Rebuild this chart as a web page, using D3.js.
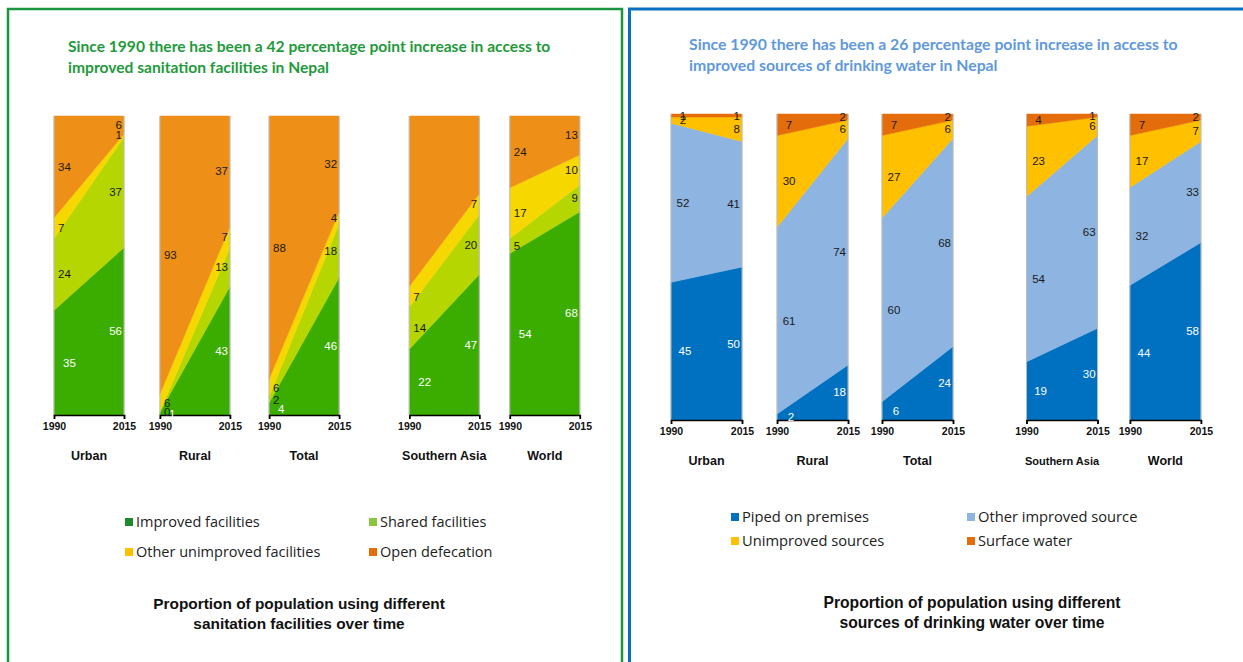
<!DOCTYPE html>
<html><head><meta charset="utf-8">
<script src="https://cdn.jsdelivr.net/npm/d3@7"></script>
<style>body{margin:0;background:#fff}svg{display:block}</style>
</head><body>
<svg id="c" width="1243" height="662"></svg>
<script>
// ---------- DATA ----------
const years = ["1990", "2015"];
const groups = ["Urban", "Rural", "Total", "Southern Asia", "World"];

const sanSeries = ["Improved facilities", "Shared facilities", "Other unimproved facilities", "Open defecation"];
const san1990 = [[35, 24, 7, 34], [1, 0, 6, 93], [4, 2, 6, 88], [22, 14, 7, 57], [54, 5, 17, 24]];
const san2015 = [[56, 37, 1, 6], [43, 13, 7, 37], [46, 18, 4, 32], [47, 20, 7, 26], [68, 9, 10, 13]];
const sanHidden = [["Southern Asia", "Open defecation"]];

const watSeries = ["Piped on premises", "Other improved source", "Unimproved sources", "Surface water"];
const wat1990 = [[45, 52, 2, 1], [2, 61, 30, 7], [6, 60, 27, 7], [19, 54, 23, 4], [44, 32, 17, 7]];
const wat2015 = [[50, 41, 8, 1], [18, 74, 6, 2], [24, 68, 6, 2], [30, 63, 6, 1], [58, 33, 7, 2]];
const watHidden = [];

const sanTitle = ["Since 1990 there has been a 42 percentage point increase in access to",
                  "improved sanitation facilities in Nepal"];
const watTitle = ["Since 1990 there has been a 26 percentage point increase in access to",
                  "improved sources of drinking water in Nepal"];
const sanCaption = ["Proportion of population using different", "sanitation facilities over time"];
const watCaption = ["Proportion of population using different", "sources of drinking water over time"];

// ---------- DRAW ----------
const svg = d3.select("#c");

// panel borders
svg.append("rect").attr("x", 8).attr("y", 9).attr("width", 614).attr("height", 700)
  .attr("fill", "none").attr("stroke", "#1a9641").attr("stroke-width", 2.5);
svg.append("rect").attr("x", 629.5).attr("y", 9).attr("width", 640).attr("height", 700)
  .attr("fill", "none").attr("stroke", "#0a6fc2").attr("stroke-width", 3);

function panel(cfg) {
  const g = svg.append("g");
  // title
  cfg.title.forEach((t, i) => g.append("text").attr("x", cfg.titleX).attr("y", cfg.titleY + i * 21)
    .attr("fill", cfg.titleColor).attr("font-family", "Lato, 'Open Sans', sans-serif")
    .attr("font-weight", "bold").attr("font-size", cfg.titleSize).text(t));

  const y = d3.scaleLinear().domain([0, 100]).range([cfg.bottom, cfg.top]);
  const slot = d3.scaleLinear().domain([0, 1]).range([cfg.x0, cfg.x0 + cfg.step]);
  const bw = cfg.barW;

  groups.forEach((grp, gi) => {
    const left = slot(cfg.slots[gi]);
    const x = d3.scalePoint().domain(years).range([left, left + bw]);
    const v0 = cfg.v1990[gi], v1 = cfg.v2015[gi];
    const rows = years.map((yr, yi) => {
      const o = {year: yr};
      cfg.series.forEach((s, si) => o[s] = (yi === 0 ? v0 : v1)[si]);
      return o;
    });
    const stack = d3.stack().keys(cfg.series)(rows);
    const area = d3.area().x(d => x(d.data.year)).y0(d => y(d[0])).y1(d => y(d[1]));
    stack.forEach((layer, si) => {
      g.append("path").attr("d", area(layer)).attr("fill", cfg.colors[si])
        .attr("stroke", cfg.colors[si]).attr("stroke-width", 0.5);
    });
    // side lines
    [left, left + bw].forEach(xx => g.append("line").attr("x1", xx).attr("x2", xx)
      .attr("y1", y(100)).attr("y2", y(0)).attr("stroke", "#bbb").attr("stroke-width", 1));
    // axis
    const axis = d3.axisBottom(x).tickSize(4).tickPadding(4);
    const ax = g.append("g").attr("transform", `translate(0,${y(0)})`).call(axis);
    ax.select(".domain").attr("stroke", "#000").attr("stroke-width", 1.5);
    ax.selectAll(".tick line").attr("stroke", "#000").attr("stroke-width", 1.5);
    ax.selectAll(".tick text").attr("font-family", "Arial, 'Liberation Sans', sans-serif")
      .attr("font-size", 10.5).attr("font-weight", "bold").attr("fill", "#111");
    // group label
    g.append("text").attr("x", left + bw / 2).attr("y", cfg.groupY).attr("text-anchor", "middle")
      .attr("font-family", "Arial, 'Liberation Sans', sans-serif").attr("font-weight", "bold")
      .attr("font-size", grp === "Southern Asia" ? cfg.saSize : 12.5).attr("fill", "#111").text(grp);
    // value labels
    stack.forEach((layer, si) => {
      const s = cfg.series[si];
      if (cfg.hidden.some(h => h[0] === grp && h[1] === s)) return;
      layer.forEach((d, yi) => {
        const val = d[1] - d[0];
        const isFirst = yi === 0;
        g.append("text")
          .attr("x", isFirst ? left + (si === 0 ? cfg.lOff0 : cfg.lOff) : left + bw - 2)
          .attr("y", y((d[0] + d[1]) / 2) + 4)
          .attr("text-anchor", isFirst ? cfg.lAnchor : "end")
          .attr("font-family", "Arial, 'Liberation Sans', sans-serif").attr("font-size", 11.5)
          .attr("fill", si === 0 ? "#fff" : "#1a1a1a").text(val);
      });
    });
  });

  // legend
  cfg.series.forEach((s, si) => {
    const col = si % 2, row = Math.floor(si / 2);
    const lx = cfg.legX[col], ly = cfg.legY + row * cfg.legDy;
    g.append("rect").attr("x", lx).attr("y", ly - 9).attr("width", 8).attr("height", 8)
      .attr("fill", cfg.legColors[si]);
    g.append("text").attr("x", lx + 11).attr("y", ly).attr("font-family", "'Open Sans', sans-serif")
      .attr("font-size", cfg.legSize).attr("fill", "#222").text(s);
  });
  // caption
  cfg.caption.forEach((t, i) => g.append("text").attr("x", cfg.capX).attr("y", cfg.capY + i * 20)
    .attr("text-anchor", "middle").attr("font-family", "Arial, 'Liberation Sans', sans-serif")
    .attr("font-weight", "bold").attr("font-size", cfg.capSize).attr("fill", "#111").text(t));
}

panel({
  title: sanTitle, titleX: 68, titleY: 52, titleColor: "#1f9a3c", titleSize: 15.6,
  series: sanSeries, v1990: san1990, v2015: san2015, hidden: sanHidden,
  colors: ["#3aad00", "#b5d600", "#f6d800", "#ee8f17"],
  legColors: ["#1e8a2e", "#8cc63e", "#ffc000", "#e46c0a"],
  top: 116, bottom: 415, x0: 54, step: 107, slots: [0, 0.99, 2.01, 3.32, 4.26], barW: 70,
  lOff: 4, lOff0: 9, lAnchor: "start",
  groupY: 460, saSize: 12.5,
  legX: [125, 369], legY: 527, legDy: 30, legSize: 14.5,
  caption: sanCaption, capX: 299, capY: 609, capSize: 15.4
});

panel({
  title: watTitle, titleX: 689, titleY: 50, titleColor: "#5f99dc", titleSize: 15.8,
  series: watSeries, v1990: wat1990, v2015: wat2015, hidden: watHidden,
  colors: ["#0070c0", "#8eb4e1", "#ffc000", "#e46c0a"],
  legColors: ["#0070c0", "#8eb4e1", "#ffc000", "#e46c0a"],
  top: 114, bottom: 420, x0: 671, step: 105.5, slots: [0, 1.005, 2.0, 3.37, 4.35], barW: 71,
  lOff: 12, lOff0: 14, lAnchor: "middle",
  groupY: 465, saSize: 11,
  legX: [731, 967], legY: 522, legDy: 24, legSize: 14.7,
  caption: watCaption, capX: 972, capY: 608, capSize: 15.7
});
</script>
</body></html>
